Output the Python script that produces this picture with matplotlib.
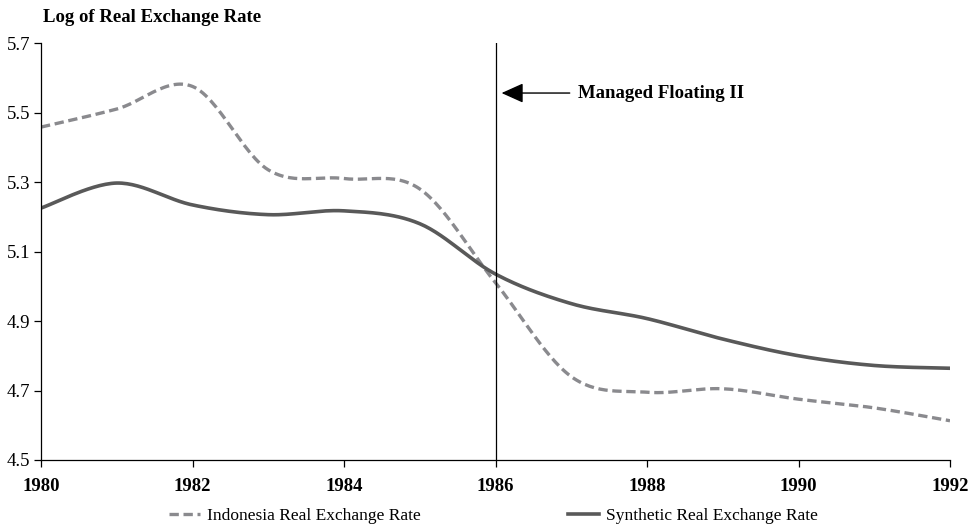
import numpy as np
import matplotlib
matplotlib.use("Agg")
from matplotlib import pyplot as plt

plt.rcParams['font.family'] = ['Liberation Serif', 'DejaVu Serif']

# data
years = [1980, 1981, 1982, 1983, 1984, 1985, 1986, 1987, 1988, 1989, 1990, 1991, 1992]
indonesia = [5.458, 5.51, 5.575, 5.335, 5.31, 5.28, 5.01, 4.74, 4.695, 4.705, 4.675, 4.65, 4.613]
synthetic = [5.225, 5.297, 5.234, 5.206, 5.217, 5.18, 5.035, 4.95, 4.907, 4.848, 4.80, 4.772, 4.764]

y_ticks = [4.5, 4.7, 4.9, 5.1, 5.3, 5.5, 5.7]
x_ticks = [1980, 1982, 1984, 1986, 1988, 1990, 1992]
event_year = 1986


# smooth line like a spreadsheet "smoothed line" (Catmull-Rom through the points)
def smooth(xs, ys, n=30):
    xs = np.asarray(xs, float)
    ys = np.asarray(ys, float)
    px = np.concatenate([[xs[0]], xs, [xs[-1]]])
    py = np.concatenate([[ys[0]], ys, [ys[-1]]])
    out_x, out_y = [], []
    t = np.linspace(0, 1, n)
    for i in range(1, len(px) - 2):
        p0x, p1x, p2x, p3x = px[i - 1], px[i], px[i + 1], px[i + 2]
        p0y, p1y, p2y, p3y = py[i - 1], py[i], py[i + 1], py[i + 2]
        c1x, c1y = p1x + (p2x - p0x) / 6, p1y + (p2y - p0y) / 6
        c2x, c2y = p2x - (p3x - p1x) / 6, p2y - (p3y - p1y) / 6
        bx = (1 - t) ** 3 * p1x + 3 * (1 - t) ** 2 * t * c1x + 3 * (1 - t) * t ** 2 * c2x + t ** 3 * p2x
        by = (1 - t) ** 3 * p1y + 3 * (1 - t) ** 2 * t * c1y + 3 * (1 - t) * t ** 2 * c2y + t ** 3 * p2y
        out_x.extend(bx)
        out_y.extend(by)
    return out_x, out_y


fig = plt.figure(figsize=(9.75, 5.27), dpi=100)
ax = fig.add_axes([41 / 975, 1 - 460 / 527, 909 / 975, 417 / 527])

sx, sy = smooth(years, indonesia)
ax.plot(sx, sy, color='#8a8a8e', lw=2.4, dashes=(2.8, 1.4), label='Indonesia Real Exchange Rate')
sx, sy = smooth(years, synthetic)
ax.plot(sx, sy, color='#595959', lw=2.6, label='Synthetic Real Exchange Rate')

ax.axvline(event_year, color='black', lw=0.9)
ax.annotate('Managed Floating II', xy=(1986.08, 5.556), xytext=(1987.09, 5.556),
            fontsize=13.5, fontweight='bold', va='center', ha='left',
            arrowprops=dict(arrowstyle='-|>,head_length=1.0,head_width=0.45',
                            color='black', lw=1.0, shrinkA=4, shrinkB=0))

ax.set_xlim(1980, 1992)
ax.set_ylim(4.5, 5.7)
ax.set_xticks(x_ticks)
ax.set_xticklabels([str(v) for v in x_ticks], fontweight='bold', fontsize=13.5)
ax.set_yticks(y_ticks)
ax.set_yticklabels(['%.1f' % v for v in y_ticks], fontsize=13.5)
ax.tick_params(axis='both', direction='out', length=5, width=0.9, color='black', pad=3)
ax.tick_params(axis='x', pad=8)
ax.spines['top'].set_visible(False)
ax.spines['right'].set_visible(False)
ax.spines['left'].set_linewidth(0.9)
ax.spines['bottom'].set_linewidth(0.9)

fig.text(43 / 975, 1 - 17 / 527, 'Log of Real Exchange Rate', fontsize=13.5,
         fontweight='bold', va='center', ha='left')

fig.legend(loc='center', bbox_to_anchor=(0.506, 1 - 516 / 527), ncol=2, frameon=False,
           fontsize=12.5, handlelength=1.8, handletextpad=0.4, columnspacing=8.5,
           borderpad=0, borderaxespad=0)

fig.savefig('out.png', dpi=100)
